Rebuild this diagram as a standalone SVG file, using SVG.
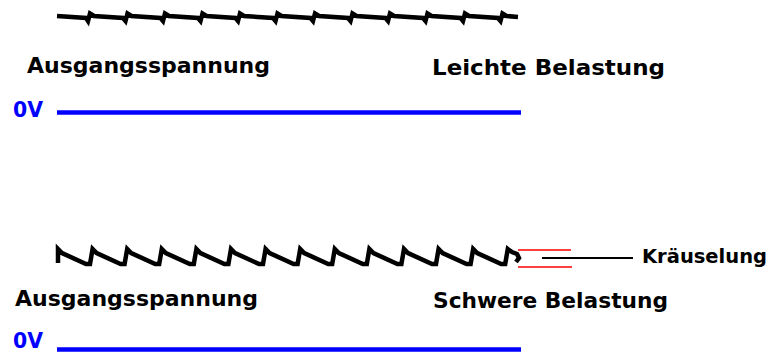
<svg xmlns="http://www.w3.org/2000/svg" width="771" height="358" viewBox="0 0 771 358">
<style>
.lbl{font-family:"DejaVu Sans","Liberation Sans",sans-serif;font-weight:bold;font-size:21px;fill:#000}
.zero{font-family:"DejaVu Sans","Liberation Sans",sans-serif;font-weight:bold;font-size:22px;fill:#0000ff}
.wave{fill:none;stroke:#000;stroke-linejoin:miter}
.base{stroke:#0000ff;stroke-width:4.5;fill:none}
.red{stroke:#ff0000;stroke-width:1.5;fill:none}
</style>
<rect width="771" height="358" fill="#fff"/>
<g id="light">
<path class="wave" stroke-width="4.5" d="M57,16 L86,18 L88,21 L90,13.5 L94,16 L123,18 L125.5,21 L127.5,13.5 L131.5,16 L160.5,18 L163,21 L165,13.5 L169,16 L198,18 L200.5,21 L202.5,13.5 L206.5,16 L235.5,18 L238,21 L240,13.5 L244,16 L273,18 L275.5,21 L277.5,13.5 L281.5,16 L310.5,18 L313,21 L315,13.5 L319,16 L348,18 L350.5,21 L352.5,13.5 L356.5,16 L385.5,18 L388,21 L390,13.5 L394,16 L423,18 L425.5,21 L427.5,13.5 L431.5,16 L460.5,18 L463,21 L465,13.5 L469,16 L498,18 L500.5,21 L502.5,13.5 L506.5,16 L518,17"/>
<text class="lbl" x="27" y="73" textLength="243" lengthAdjust="spacingAndGlyphs">Ausgangsspannung</text>
<text class="lbl" x="432" y="75" textLength="233" lengthAdjust="spacingAndGlyphs">Leichte Belastung</text>
<text class="zero" x="13" y="117" textLength="30" lengthAdjust="spacingAndGlyphs">0V</text>
<line class="base" x1="57" y1="112.5" x2="521" y2="112.5"/>
</g>
<g id="heavy">
<path class="wave" stroke-width="4.5" d="M58,263 L58,249 L62,253 L86,264 L90,264 L92.6,249 L96.6,253 L120.6,264 L124.6,264 L127.2,249 L131.2,253 L155.2,264 L159.2,264 L161.8,249 L165.8,253 L189.8,264 L193.8,264 L196.4,249 L200.4,253 L224.4,264 L228.4,264 L231,249 L235,253 L259,264 L263,264 L265.6,249 L269.6,253 L293.6,264 L297.6,264 L300.2,249 L304.2,253 L328.2,264 L332.2,264 L334.8,249 L338.8,253 L362.8,264 L366.8,264 L369.4,249 L373.4,253 L397.4,264 L401.4,264 L404,249 L408,253 L432,264 L436,264 L438.6,249 L442.6,253 L466.6,264 L470.6,264 L473.2,249 L477.2,253 L501.2,264 L505.2,264 L507.8,249 L512,252 L517,254 L519,258 L516,262"/>
<text class="lbl" x="15" y="306" textLength="243" lengthAdjust="spacingAndGlyphs">Ausgangsspannung</text>
<text class="lbl" x="433" y="308" textLength="235" lengthAdjust="spacingAndGlyphs">Schwere Belastung</text>
<text class="zero" x="13" y="348" textLength="30" lengthAdjust="spacingAndGlyphs">0V</text>
<line class="base" x1="57" y1="349.5" x2="521" y2="349.5"/>
</g>
<g id="ripple">
<line class="red" x1="518" y1="250" x2="571" y2="250"/>
<line class="red" x1="518" y1="267" x2="572" y2="267"/>
<text class="lbl" style="font-size:19px" x="642" y="263" textLength="125" lengthAdjust="spacingAndGlyphs">Kräuselung</text>
</g>
<g id="connectors">
<line x1="542" y1="258" x2="633" y2="258" stroke="#000" stroke-width="2"/>
</g>
</svg>
